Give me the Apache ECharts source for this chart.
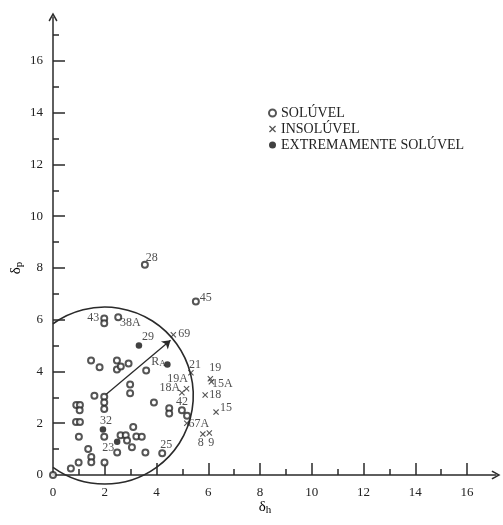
<!DOCTYPE html>
<html>
<head>
<meta charset="utf-8">
<script src="https://cdn.jsdelivr.net/npm/echarts@6/dist/echarts.min.js"></script>
<style>html,body{margin:0;padding:0;background:#fff}#c{width:503px;height:525px}</style>
</head>
<body>
<div id="c"></div>
<script>
// ---- data (δh, δp, label) ----
const soluble = [
  [3.55, 8.12, '28'], [5.52, 6.70, '45'], [1.98, 6.05, '43'], [1.98, 5.86, ''], [2.52, 6.10, '38A'],
  [1.47, 4.42, ''], [1.80, 4.16, ''], [2.47, 4.42, ''], [2.47, 4.08, ''], [2.62, 4.19, ''],
  [2.92, 4.31, ''], [3.60, 4.04, ''], [1.60, 3.06, ''], [1.98, 3.02, ''], [1.98, 2.80, ''],
  [1.98, 2.55, ''], [2.98, 3.50, ''], [2.98, 3.16, ''], [3.90, 2.80, ''], [0.90, 2.70, ''],
  [1.04, 2.70, ''], [1.03, 2.50, ''], [0.89, 2.05, ''], [1.04, 2.05, ''], [1.00, 1.48, ''],
  [1.98, 1.48, ''], [1.36, 1.00, ''], [1.48, 0.70, ''], [1.48, 0.49, ''], [0.99, 0.48, ''],
  [0.69, 0.25, ''], [0.00, 0.00, ''], [1.99, 0.48, ''], [2.48, 0.87, ''], [2.61, 1.54, ''],
  [2.81, 1.54, ''], [2.86, 1.33, ''], [3.05, 1.07, ''], [3.10, 1.85, ''], [3.22, 1.49, ''],
  [3.43, 1.48, ''], [3.57, 0.87, ''], [4.22, 0.84, '25'], [4.49, 2.58, ''], [4.49, 2.38, ''],
  [4.98, 2.50, '42'], [5.18, 2.29, '']
];
const insoluble = [
  [4.65, 5.42, '69'], [5.33, 3.95, '21'], [6.08, 3.72, '19'], [6.12, 3.60, '15A'],
  [5.16, 3.33, '19A'], [4.98, 3.18, '18A'], [5.88, 3.09, '18'], [6.30, 2.43, '15'],
  [5.17, 2.00, '67A'], [5.79, 1.58, '8'], [6.04, 1.62, '9']
];
const extremelySoluble = [
  [3.32, 5.00, '29'], [1.93, 1.76, '32'], [2.48, 1.28, '23'], [4.42, 4.27, 'RA']
];
// solubility sphere: centre δh, centre δp, radius; radius arrow angle (deg)
const sphere = [2.0, 3.07, 3.42];
const radiusArrowAngle = [40];
const seriesNames = ['SOLÚVEL', 'INSOLÚVEL', 'EXTREMAMENTE SOLÚVEL'];
const tickLabels = [0, 2, 4, 6, 8, 10, 12, 14, 16];
const majorTicks = [2, 4, 6, 8, 10, 12, 14, 16];
const xMinorTicks = [1, 3, 5, 7, 9, 11, 13, 15];
const yMinorTicks = [1, 3, 5, 7, 9, 11, 13, 15, 17];

// ---- style ----
const AX = '#2a2a2a', TXT = '#222', SERIF = '"Liberation Serif","DejaVu Serif",serif';
const labelOffsets = {
  '28': [7, -7], '45': [10, -4], '43': [-11, -1], '38A': [12, 6], '25': [4, -8], '42': [0, -8],
  '69': [11, -1], '21': [4, -8], '19': [5, -11], '15A': [11, 2], '19A': [-9, -10], '18A': [-12, -5],
  '18': [10, 0], '15': [10, -4], '67A': [12, 1], '8': [-2, 9], '9': [2, 10],
  '29': [9, -9], '32': [3, -9], '23': [-9, 6], 'RA': [-9, -3]
};
const X_MAX = 443 / 25.88, Y_MAX = 458 / 25.88;
const arrowPath = 'path://M5,0 L10,9 L8.6,10 L5,3.2 L1.4,10 L0,9 Z';
const crossPath = 'path://M0,1.3 L1.3,0 L5,3.7 L8.7,0 L10,1.3 L6.3,5 L10,8.7 L8.7,10 L5,6.3 L1.3,10 L0,8.7 L3.7,5 Z';

function toData(arr) {
  return arr.map(d => ({
    value: [d[0], d[1]],
    label: d[2] ? {
      show: true,
      formatter: d[2] === 'RA' ? '{r|R}{s|A}' : d[2],
      offset: labelOffsets[d[2]] || [0, 0]
    } : { show: false }
  }));
}
const pointLabel = {
  position: 'inside', align: 'center', verticalAlign: 'middle',
  fontFamily: SERIF, fontSize: 12, color: TXT,
  rich: { r: { fontFamily: SERIF, fontSize: 12, color: TXT }, s: { fontFamily: SERIF, fontSize: 9, color: TXT, padding: [5, 0, 0, 0] } }
};

const cx = sphere[0], cy = sphere[1], rr = sphere[2];
const ang = radiusArrowAngle[0] * Math.PI / 180;
const arrowEnd = [cx + 0.97 * rr * Math.cos(ang), cy + 0.97 * rr * Math.sin(ang)];

const chart = echarts.init(document.getElementById('c'), null, { renderer: 'canvas' });
chart.setOption({
  animation: false,
  backgroundColor: '#fff',
  grid: { left: 53, top: 17, right: 7, bottom: 50 },
  xAxis: [
    {
      type: 'value', min: 0, max: X_MAX, position: 'bottom', splitLine: { show: false },
      axisLine: { show: true, onZero: false, symbol: ['none', arrowPath], symbolSize: [9, 10], lineStyle: { color: AX, width: 1.5 } },
      axisTick: { show: true, inside: true, length: 12, customValues: majorTicks, lineStyle: { color: AX, width: 1.5 } },
      axisLabel: { customValues: tickLabels, margin: 11, fontFamily: SERIF, fontSize: 13, color: TXT }
    },
    {
      type: 'value', min: 0, max: X_MAX, position: 'bottom', splitLine: { show: false },
      axisLine: { show: false },
      axisTick: { show: true, inside: true, length: 6, customValues: xMinorTicks, lineStyle: { color: AX, width: 1.5 } },
      axisLabel: { show: false }
    }
  ],
  yAxis: [
    {
      type: 'value', min: 0, max: Y_MAX, position: 'left', splitLine: { show: false },
      axisLine: { show: true, onZero: false, symbol: ['none', arrowPath], symbolSize: [9, 10], lineStyle: { color: AX, width: 1.5 } },
      axisTick: { show: true, inside: true, length: 12, customValues: majorTicks, lineStyle: { color: AX, width: 1.5 } },
      axisLabel: { customValues: tickLabels, margin: 10, fontFamily: SERIF, fontSize: 13, color: TXT }
    },
    {
      type: 'value', min: 0, max: Y_MAX, position: 'left', splitLine: { show: false },
      axisLine: { show: false },
      axisTick: { show: true, inside: true, length: 6, customValues: yMinorTicks, lineStyle: { color: AX, width: 1.5 } },
      axisLabel: { show: false }
    }
  ],
  legend: {
    orient: 'vertical', left: 268, top: 105, padding: 0, itemGap: 0, itemWidth: 7, itemHeight: 7,
    textStyle: { fontFamily: SERIF, fontSize: 14, color: TXT, lineHeight: 16 },
    selectedMode: false,
    data: [
      { name: seriesNames[0], icon: 'emptyCircle' },
      { name: seriesNames[1], icon: crossPath },
      { name: seriesNames[2], icon: 'circle' }
    ]
  },
  graphic: [
    { type: 'text', x: 265, y: 507, style: { text: '{a|δ}{b|h}', align: 'center', verticalAlign: 'middle',
      rich: { a: { fontFamily: SERIF, fontSize: 15, color: TXT }, b: { fontFamily: SERIF, fontSize: 11, color: TXT, padding: [6, 0, 0, 0] } } } },
    { type: 'text', x: 16, y: 268, rotation: Math.PI / 2, style: { text: '{a|δ}{b|p}', align: 'center', verticalAlign: 'middle',
      rich: { a: { fontFamily: SERIF, fontSize: 15, color: TXT }, b: { fontFamily: SERIF, fontSize: 11, color: TXT, padding: [6, 0, 0, 0] } } } }
  ],
  series: [
    {
      type: 'custom', name: 'sphere', xAxisIndex: 0, yAxisIndex: 0, silent: true, z: 1,
      data: [sphere],
      renderItem: function (params, api) {
        const c = api.coord([api.value(0), api.value(1)]);
        const r = api.size([api.value(2), 0])[0];
        const x0 = api.coord([0, api.value(1)])[0];
        const a = Math.acos(Math.max(-1, Math.min(1, (x0 - c[0]) / r)));
        return {
          type: 'arc',
          shape: { cx: c[0], cy: c[1], r: r, startAngle: -a, endAngle: a, clockwise: true },
          style: { stroke: AX, lineWidth: 1.6, fill: null }
        };
      }
    },
    {
      type: 'lines', name: 'radius', coordinateSystem: 'cartesian2d', xAxisIndex: 0, yAxisIndex: 0, silent: true, z: 1,
      symbol: ['none', 'arrow'], symbolSize: 8,
      lineStyle: { color: AX, width: 1.3, opacity: 1 },
      data: [{ coords: [[cx, cy], arrowEnd] }]
    },
    {
      type: 'scatter', name: seriesNames[0], xAxisIndex: 0, yAxisIndex: 0, z: 3,
      symbol: 'emptyCircle', symbolSize: 6,
      itemStyle: { color: AX, borderColor: AX, borderWidth: 1.4 },
      label: pointLabel, emphasis: { disabled: true },
      data: toData(soluble)
    },
    {
      type: 'scatter', name: seriesNames[1], xAxisIndex: 0, yAxisIndex: 0, z: 3,
      symbol: crossPath, symbolSize: 6,
      itemStyle: { color: AX },
      label: pointLabel, emphasis: { disabled: true },
      data: toData(insoluble)
    },
    {
      type: 'scatter', name: seriesNames[2], xAxisIndex: 0, yAxisIndex: 0, z: 3,
      symbol: 'circle', symbolSize: 6.5,
      itemStyle: { color: '#111' },
      label: pointLabel, emphasis: { disabled: true },
      data: toData(extremelySoluble)
    }
  ]
});
</script>
</body>
</html>
